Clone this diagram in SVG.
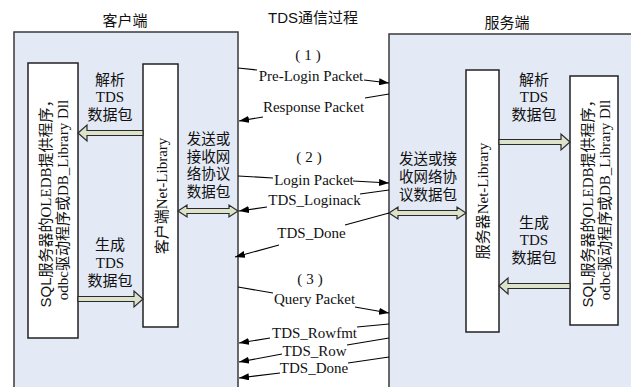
<svg xmlns="http://www.w3.org/2000/svg" width="631" height="387" viewBox="0 0 631 387">
<style>
.outer{fill:#e3e9f5;stroke:#3a3a3a;stroke-width:1.5}
.inner{fill:#ffffff;stroke:#222;stroke-width:1.5}
.harrow{fill:#dde2cb;stroke:#2a2a2a;stroke-width:1.2}
.msg{fill:none;stroke:#000;stroke-width:1.1}
.cn{font-family:"Noto Sans CJK SC","Liberation Sans",sans-serif;font-size:15px;fill:#111}
.cs{font-family:"Noto Sans CJK SC","Liberation Sans",sans-serif;font-size:14.5px;fill:#111}
.ser{font-family:"Liberation Serif","Noto Sans CJK SC",serif;font-size:15px;fill:#111}
.sans{font-family:"Liberation Sans","Noto Sans CJK SC",sans-serif;font-size:15px;fill:#111}
.num{font-family:"Liberation Serif",serif;font-size:15px;fill:#111;letter-spacing:4px}
.mid{text-anchor:middle}
</style>
<defs>
<marker id="ah" viewBox="0 0 10 7" refX="10" refY="3.5" markerWidth="10" markerHeight="7" markerUnits="userSpaceOnUse" orient="auto">
<path d="M0,0 L10,3.5 L0,7 z" fill="#000"/>
</marker>
</defs>

<text class="sans mid" x="313" y="23">TDS<tspan class="cn">通信过程</tspan></text>

<g id="client">
<rect class="outer" x="14" y="32" width="224" height="370"/>
<text class="cn mid" x="125" y="26">客户端</text>
</g>
<g id="server">
<rect class="outer" x="389" y="34" width="250" height="370"/>
<text class="cn mid" x="507" y="28">服务端</text>
</g>

<g id="client-sql">
<rect class="inner" x="28" y="63" width="50" height="275"/>
<text class="ser mid" transform="translate(50.5,200) rotate(-90)"><tspan class="sans">SQL</tspan>服务器的OLEDB提供程序，</text>
<text class="ser mid" transform="translate(67.5,200) rotate(-90)">odbc驱动程序或DB_Library Dll</text>
</g>
<g id="client-net">
<rect class="inner" x="143" y="64" width="35" height="263"/>
<text class="ser mid" transform="translate(166.5,196) rotate(-90)">客户端Net-Library</text>
</g>
<g id="server-net">
<rect class="inner" x="466" y="70" width="33" height="262"/>
<text class="ser mid" transform="translate(487.5,201) rotate(-90)">服务器Net-Library</text>
</g>
<g id="server-sql">
<rect class="inner" x="570" y="76" width="48" height="249"/>
<text class="ser mid" transform="translate(592.5,200) rotate(-90)"><tspan class="sans">SQL</tspan>服务器的OLEDB提供程序，</text>
<text class="ser mid" transform="translate(609.5,200) rotate(-90)">odbc驱动程序或DB_Library Dll</text>
</g>

<g id="labels">
<text class="cn mid" x="110" y="85">解析<tspan class="ser" x="110" dy="17">TDS</tspan><tspan x="110" dy="18">数据包</tspan></text>
<text class="cn mid" x="110" y="250">生成<tspan class="ser" x="110" dy="18">TDS</tspan><tspan x="110" dy="18">数据包</tspan></text>
<text class="cs mid" x="208.5" y="144">发送或<tspan x="208.5" dy="17.5">接收网</tspan><tspan x="208.5" dy="17.5">络协议</tspan><tspan x="208.5" dy="17.5">数据包</tspan></text>
<text class="cn mid" x="534" y="85">解析<tspan class="ser" x="534" dy="17">TDS</tspan><tspan x="534" dy="18">数据包</tspan></text>
<text class="cn mid" x="534" y="228">生成<tspan class="ser" x="534" dy="17">TDS</tspan><tspan x="534" dy="18">数据包</tspan></text>
<text class="cs mid" x="428" y="164">发送或接<tspan x="428" dy="18">收网络协</tspan><tspan x="428" dy="18">议数据包</tspan></text>
<text class="num mid" x="310" y="60">(1)</text>
<text class="num mid" x="311" y="162">(2)</text>
<text class="num mid" x="312" y="284">(3)</text>
<text class="ser mid" x="311" y="81">Pre-Login Packet</text>
<text class="ser mid" x="313.5" y="112">Response Packet</text>
<text class="ser mid" x="314" y="185">Login Packet</text>
<text class="ser mid" x="314.5" y="205">TDS_Loginack</text>
<text class="ser mid" x="311.5" y="238">TDS_Done</text>
<text class="ser mid" x="314.5" y="304">Query Packet</text>
<text class="ser mid" x="314.5" y="338">TDS_Rowfmt</text>
<text class="ser mid" x="314.5" y="356">TDS_Row</text>
<text class="ser mid" x="314" y="373">TDS_Done</text>
</g>

<g id="connectors">
<path class="harrow" d="M143,130.5 H87 V125 L78,133 L87,141 V135.5 H143 Z"/>
<path class="harrow" d="M78,296.5 H134 V291 L143,299 L134,307 V301.5 H78 Z"/>
<path class="harrow" d="M178,211 L187,205 V208.5 H229 V205 L238,211 L229,217 V213.5 H187 V217 Z"/>
<path class="harrow" d="M499,139.5 H561 V134 L570,142 L561,150 V144.5 H499 Z"/>
<path class="harrow" d="M570,283.5 H508 V278 L499,286 L508,294 V288.5 H570 Z"/>
<path class="harrow" d="M389,213 L398,207 V210.5 H457 V207 L466,213 L457,219 V215.5 H398 V219 Z"/>

<line class="msg" x1="238" y1="68" x2="257" y2="70"/>
<line class="msg" x1="364" y1="80" x2="389" y2="83" marker-end="url(#ah)"/>
<line class="msg" x1="389" y1="94" x2="365" y2="98"/>
<line class="msg" x1="263" y1="117" x2="239" y2="121" marker-end="url(#ah)"/>
<line class="msg" x1="238" y1="176" x2="273" y2="178"/>
<line class="msg" x1="353" y1="181" x2="389" y2="183" marker-end="url(#ah)"/>
<line class="msg" x1="389" y1="190" x2="360" y2="194"/>
<line class="msg" x1="267" y1="207" x2="239" y2="211" marker-end="url(#ah)"/>
<line class="msg" x1="389" y1="213" x2="345" y2="225"/>
<line class="msg" x1="279" y1="245" x2="235" y2="257" marker-end="url(#ah)"/>
<line class="msg" x1="238" y1="287" x2="273" y2="293"/>
<line class="msg" x1="355" y1="307" x2="389" y2="313" marker-end="url(#ah)"/>
<line class="msg" x1="389" y1="324" x2="357" y2="327"/>
<line class="msg" x1="270" y1="338" x2="239" y2="343" marker-end="url(#ah)"/>
<line class="msg" x1="389" y1="338" x2="347" y2="345"/>
<line class="msg" x1="282" y1="354" x2="239" y2="362" marker-end="url(#ah)"/>
<line class="msg" x1="389" y1="357" x2="348" y2="363"/>
<line class="msg" x1="280" y1="373" x2="239" y2="378" marker-end="url(#ah)"/>
</g>
</svg>
